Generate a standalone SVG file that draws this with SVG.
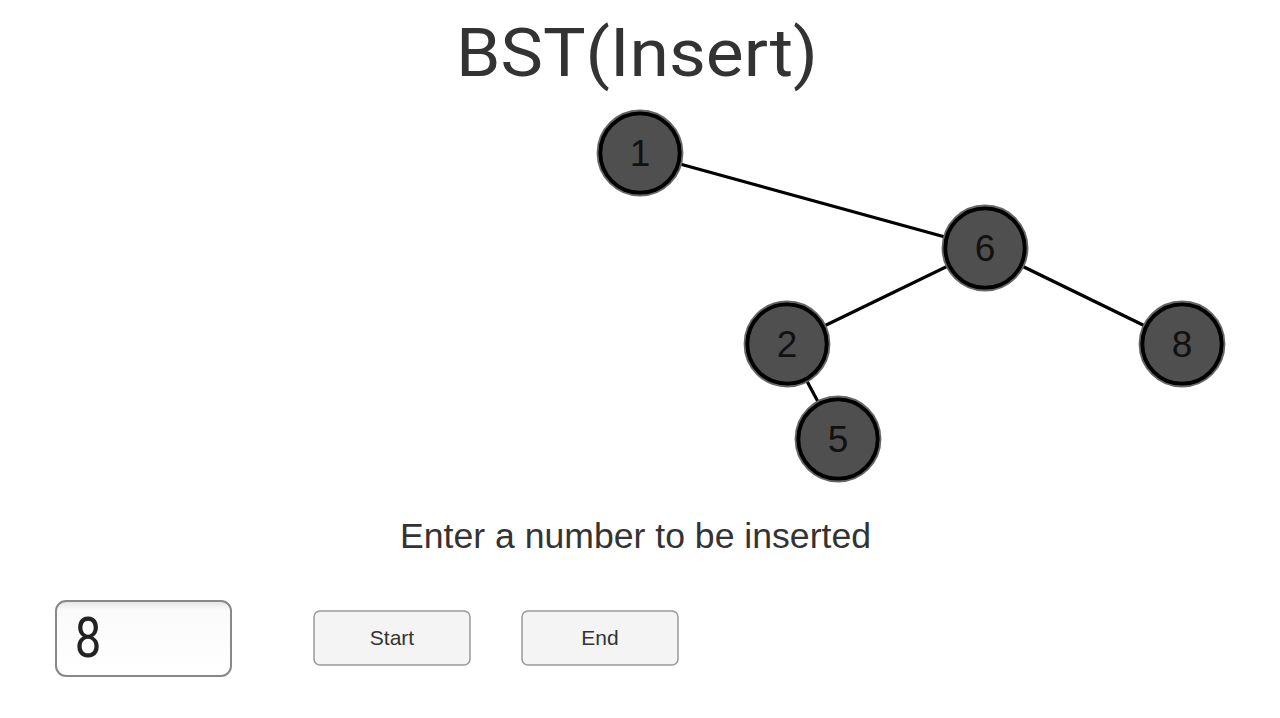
<svg xmlns="http://www.w3.org/2000/svg" width="1280" height="718" viewBox="0 0 1280 718">
<style>
.edge{stroke:#000;stroke-width:3.2;fill:none}
.node circle.o{fill:#4f4f4f;stroke:#000;stroke-width:4.5}
.node circle.r{fill:none;stroke:#666;stroke-width:1.8}
.node text{font-family:"Liberation Sans",Arial,sans-serif;font-size:37px;fill:#111;text-anchor:middle}
.lbl{fill:#333;text-anchor:middle}
.btn rect{fill:#f4f4f4;stroke:#999;stroke-width:1.5}
.btn text{font-family:"Liberation Sans",Arial,sans-serif;font-size:21px;fill:#333;text-anchor:middle}
</style>
<defs>
<linearGradient id="inset" x1="0" y1="0" x2="0" y2="1">
<stop offset="0" stop-color="#e4e4e4"/>
<stop offset="0.12" stop-color="#fafafa"/>
<stop offset="1" stop-color="#ffffff"/>
</linearGradient>
</defs>
<rect width="1280" height="718" fill="#fff"/>
<text id="title" class="lbl" x="637" y="76" font-family="Roboto,'Liberation Sans',sans-serif" font-size="67" textLength="362" lengthAdjust="spacingAndGlyphs">BST(Insert)</text>
<g id="connectors">
<line class="edge" x1="640" y1="153" x2="985" y2="248"/>
<line class="edge" x1="985" y1="248" x2="787" y2="344"/>
<line class="edge" x1="985" y1="248" x2="1182" y2="344"/>
<line class="edge" x1="787" y1="344" x2="838" y2="439"/>
</g>
<g id="node1" class="node"><circle class="o" cx="640" cy="153" r="40"/><circle class="r" cx="640" cy="153" r="42.5"/><text x="640" y="166">1</text></g>
<g id="node6" class="node"><circle class="o" cx="985" cy="248" r="40"/><circle class="r" cx="985" cy="248" r="42.5"/><text x="985" y="261">6</text></g>
<g id="node2" class="node"><circle class="o" cx="787" cy="344" r="40"/><circle class="r" cx="787" cy="344" r="42.5"/><text x="787" y="357">2</text></g>
<g id="node8" class="node"><circle class="o" cx="1182" cy="344" r="40"/><circle class="r" cx="1182" cy="344" r="42.5"/><text x="1182" y="357">8</text></g>
<g id="node5" class="node"><circle class="o" cx="838" cy="439" r="40"/><circle class="r" cx="838" cy="439" r="42.5"/><text x="838" y="452">5</text></g>
<text id="prompt" class="lbl" x="635.5" y="548" font-family="'Liberation Sans',Arial,sans-serif" font-size="35.5" textLength="471" lengthAdjust="spacingAndGlyphs">Enter a number to be inserted</text>
<g id="input">
<rect x="56" y="601" width="175" height="75" rx="10" fill="url(#inset)" stroke="#888" stroke-width="2"/>
<text x="88" y="657" font-family="Roboto,'Liberation Sans',sans-serif" font-size="55" fill="#222" text-anchor="middle" transform="translate(88 0) scale(0.86 1) translate(-88 0)">8</text>
</g>
<g id="start" class="btn"><rect x="314" y="611" width="156" height="54" rx="6"/><text x="392" y="645">Start</text></g>
<g id="end" class="btn"><rect x="522" y="611" width="156" height="54" rx="6"/><text x="600" y="645">End</text></g>
</svg>
